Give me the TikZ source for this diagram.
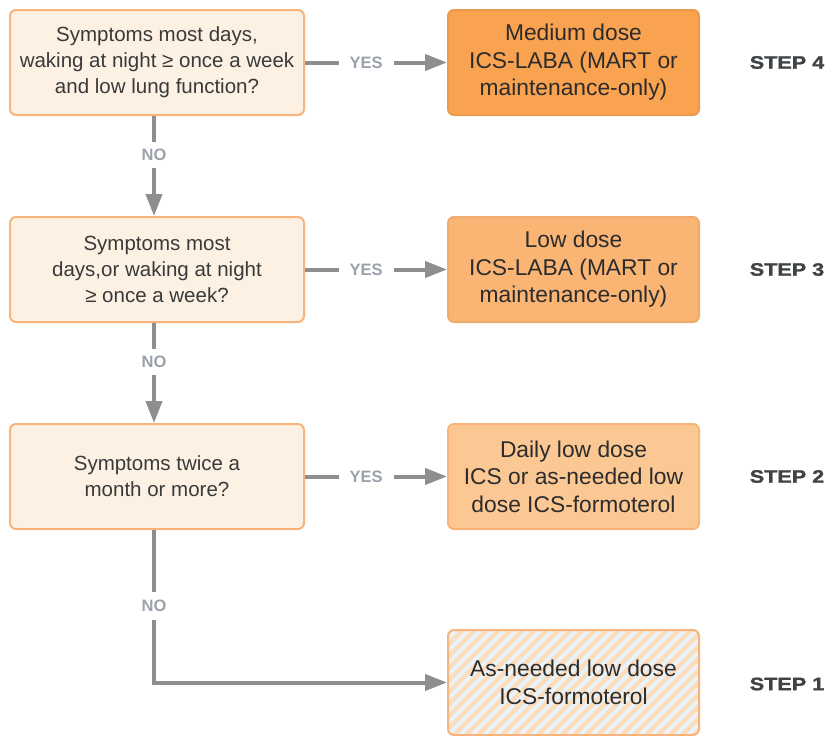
\documentclass[tikz,border=0pt]{standalone}
\usepackage{fontspec}
\setmainfont{Liberation Sans}
\newfontfamily\stepfont[FakeStretch=1.2,FakeBold=1.5]{Liberation Sans Bold}
\usetikzlibrary{arrows.meta,calc}
\definecolor{qfill}{HTML}{FDF1E4}
\definecolor{qborder}{HTML}{F8B47A}
\definecolor{sfour}{HTML}{F9A24F}
\definecolor{sthree}{HTML}{FAB574}
\definecolor{stwo}{HTML}{FBC893}
\definecolor{stripeor}{HTML}{FCDDBE}
\definecolor{stripebl}{HTML}{E8F3FA}
\definecolor{arrgray}{HTML}{8E8E8E}
\definecolor{labgray}{HTML}{9AA1AA}
\definecolor{txt}{HTML}{3A3A3A}
\definecolor{steptxt}{HTML}{404346}
\tikzset{
  qbox/.style={draw=qborder, fill=qfill, line width=2pt, rounded corners=6pt,
    minimum width=294pt, minimum height=105pt, align=center, text=txt,
    font=\fontsize{20.5}{26}\selectfont, inner sep=0pt},
  abox/.style={draw=qborder, line width=2pt, rounded corners=6pt,
    minimum width=251pt, minimum height=105pt, align=center, text=txt!75!black,
    font=\fontsize{22.8}{27.5}\selectfont, inner sep=0pt},
  arr/.style={draw=arrgray, line width=4pt, -{Triangle[length=22pt,width=16pt]}},
  lab/.style={fill=white, text=labgray, font=\bfseries\fontsize{16.5}{19}\selectfont,
    inner xsep=11pt, inner ysep=7pt},
  steplab/.style={text=steptxt, font=\stepfont\fontsize{18}{21}\selectfont},
}
\begin{document}
\begin{tikzpicture}[x=1pt,y=1pt]
\useasboundingbox (0,0) rectangle (831,-736);
% question boxes
\node[qbox] (q1) at (157,-62.5) {Symptoms most days,\\waking at night ≥ once a week\\and low lung function?};
\node[qbox] (q2) at (157,-269.5) {Symptoms most\\days,or waking at night\\≥ once a week?};
\node[qbox] (q3) at (157,-476.5) {Symptoms twice a\\month or more?};
% answer boxes
\node[abox, fill=sfour, draw=sfour!95!black] (r4) at (573.5,-62.5) {Medium dose\\ICS-LABA (MART or\\maintenance-only)};
\node[abox, fill=sthree, draw=sthree!95!black] (r3) at (573.5,-269.5) {Low dose\\ICS-LABA (MART or\\maintenance-only)};
\node[abox, fill=stwo, draw=qborder] (r2) at (573.5,-476.5) {Daily low dose\\ICS or as-needed low\\dose ICS-formoterol};
\node[abox, fill=stripebl, path picture={
    \foreach \i in {-12,...,24}
      \draw[stripeor, line width=4.3pt]
        ($(path picture bounding box.south west)+(\i*12pt-4pt,-10pt)$) -- ++(140pt,140pt);
  }] (r1) at (573.5,-682.5) {As-needed low dose\\ICS-formoterol};
% step labels
\node[steplab] (s4) at (787,-62.5) {STEP 4};
\node[steplab] (s3) at (787,-269.5) {STEP 3};
\node[steplab] (s2) at (787,-476.5) {STEP 2};
\node[steplab] (s1) at (787,-684) {STEP 1};
% connectors
\draw[arr] (q1.east) -- (r4.west) node[lab, pos=0.43] {YES};
\draw[arr] (q2.east) -- (r3.west) node[lab, pos=0.43] {YES};
\draw[arr] (q3.east) -- (r2.west) node[lab, pos=0.43] {YES};
\draw[arr] ([xshift=-3pt]q1.south) -- ([xshift=-3pt]q2.north) node[lab, pos=0.39, inner xsep=3pt] {NO};
\draw[arr] ([xshift=-3pt]q2.south) -- ([xshift=-3pt]q3.north) node[lab, pos=0.39, inner xsep=3pt] {NO};
\draw[arr] ([xshift=-3pt]q3.south) |- (r1.west) node[lab, pos=0.25, inner xsep=3pt, inner ysep=8pt] {NO};
\end{tikzpicture}
\end{document}
